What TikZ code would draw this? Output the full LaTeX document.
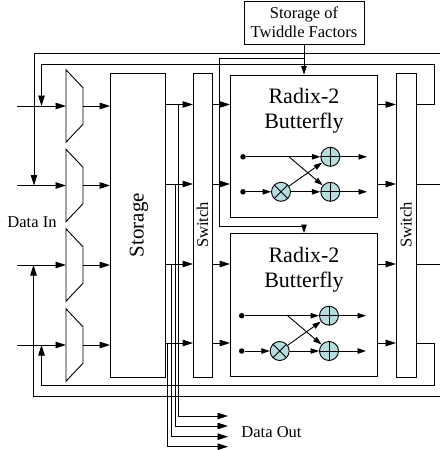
\documentclass[tikz,border=0pt]{standalone}
\usepackage{fontspec}
\setmainfont{Liberation Serif}
\usetikzlibrary{arrows.meta}
\definecolor{optint}{HTML}{B5DDE0}
\tikzset{
  x=1pt,y=-1pt,
  box/.style={draw,line width=.9pt,inner sep=0pt,align=center},
  line/.style={line width=.9pt},
  arr/.style={line width=.9pt,-{Triangle[length=10.5pt,width=6.5pt]}},
  sarr/.style={line width=.9pt,-{Triangle[length=8.5pt,width=5.5pt]}},
  dotnode/.style={circle,fill=black,inner sep=0pt,minimum size=5.5pt},
  op/.style={circle,draw,fill=optint,line width=.9pt,minimum size=19pt,inner sep=0pt},
  mulop/.style={op,path picture={\draw[line width=.8pt]
    (path picture bounding box.north west)--(path picture bounding box.south east)
    (path picture bounding box.south west)--(path picture bounding box.north east);}},
  addop/.style={op,path picture={\draw[line width=.8pt]
    (path picture bounding box.north)--(path picture bounding box.south)
    (path picture bounding box.west)--(path picture bounding box.east);}},
  small/.style={font=\fontsize{16.5}{19.5}\selectfont},
  big/.style={font=\fontsize{22}{24.5}\selectfont},
}
\begin{document}
\begin{tikzpicture}
\useasboundingbox (0,0) rectangle (440,450);
% main blocks
\node[box,small,minimum width=120pt,minimum height=43pt] (tw) at (304,22.5) {Storage of\\Twiddle Factors};
\node[box,minimum width=55pt,minimum height=304pt] (st) at (138,225.3) {};
\node[rotate=90,font=\fontsize{21}{24}\selectfont] (stl) at (139,225) {Storage};
\node[box,minimum width=19pt,minimum height=304pt] (swa) at (203,225.3) {};
\node[rotate=90,small] (swal) at (202.5,225) {Switch};
\node[box,minimum width=19.5pt,minimum height=304pt] (swb) at (406.2,225.3) {};
\node[rotate=90,small] (swbl) at (406,225) {Switch};
\node[box,minimum width=147pt,minimum height=142pt] (ba) at (304,146) {};
\node[box,minimum width=147pt,minimum height=142.5pt] (bb) at (304,304.7) {};
\node[big,align=center] (bal) at (304,110.5) {Radix-2\\Butterfly};
\node[big,align=center] (bbl) at (304,269.5) {Radix-2\\Butterfly};
\node[small] (din) at (32,222) {Data In};
\node[small] (dout) at (271.5,432) {Data Out};
% multiplexers
\foreach \n/\c in {1/106,2/185.5,3/265,4/345}{
  \draw[line,line join=miter] (66,\c-36.2) -- (83,\c-18.2) -- (83,\c+18.2) -- (66,\c+36.2) -- cycle;
  \coordinate (in\n) at (17,\c);
  \coordinate (mi\n) at (66,\c);
  \coordinate (mo\n) at (83,\c);
  \draw[arr] (in\n) -- (mi\n);
  \draw[arr] (mo\n) -- (mo\n -| st.west);
}
% storage -> switch -> butterfly -> switch
\foreach \n/\c in {1/104.5,2/184,3/264,4/343}{
  \coordinate (so\n) at (st.east |- 0,\c);
  \draw[arr] (so\n) -- (so\n -| swa.west);
  \coordinate (sb\n) at (swa.east |- 0,\c);
}
\draw[arr] (sb1) -- (sb1 -| ba.west);
\draw[arr] (sb2) -- (sb2 -| ba.west);
\draw[arr] (sb3) -- (sb3 -| bb.west);
\draw[arr] (sb4) -- (sb4 -| bb.west);
\coordinate (bo1) at (ba.east |- 0,104.5);
\coordinate (bo2) at (ba.east |- 0,184);
\coordinate (bo3) at (bb.east |- 0,264);
\coordinate (bo4) at (bb.east |- 0,343);
\foreach \n in {1,2,3,4}{\draw[arr] (bo\n) -- (bo\n -| swb.west);}
% data out taps
\foreach \n/\tx/\ty in {1/178/416,2/175/426,3/171/436.7,4/167.5/446.7}{
  \coordinate (tapa\n) at (\tx,\ty);
  \draw[line] (so\n -| tapa\n) -- (tapa\n);
  \coordinate (tapb\n) at (228,\ty);
  \draw[arr] (tapa\n) -- (tapb\n);
}
% feedback
\draw[arr] (swb.east |- 0,104.5) -- (434.5,104.5) -- (434.5,64.5) -- (41.5,64.5) -- (41.5,106);
\draw[arr] (440,53) -- (34,53) -- (34,185.5);
\draw[line] (swb.east |- 0,184) -- (440,184);
\draw[line] (swb.east |- 0,264) -- (440,264);
\draw[arr] (440,396.5) -- (33.5,396.5) -- (33.5,265);
\draw[arr] (swb.east |- 0,343) -- (434.5,343) -- (434.5,385) -- (41.5,385) -- (41.5,345);
% twiddle
\draw[sarr] (tw.south) -- (ba.north);
\coordinate (twj) at (304,58);
\draw[sarr] (twj) -- (219,58) -- (219,226) -- (304,226) -- (bb.north);
% butterfly 1
\node[dotnode] (ad1) at (243,156.8) {};
\node[dotnode] (ad2) at (243,191.8) {};
\node[mulop] (am) at (281,191.8) {};
\node[addop] (ap1) at (330.3,156.8) {};
\node[addop] (ap2) at (330.3,191.8) {};
\coordinate (ae1) at (367,156.8);
\coordinate (ae2) at (367,191.8);
\coordinate (ac) at (289,156.8);
\draw[sarr] (ad1) -- (ap1);
\draw[sarr] (ad2) -- (am);
\draw[sarr] (am) -- (ap1);
\draw[sarr] (am) -- (ap2);
\draw[sarr] (ac) -- (ap2);
\draw[sarr] (ap1) -- (ae1);
\draw[sarr] (ap2) -- (ae2);
% butterfly 2
\node[dotnode] (bd1) at (241.7,315.7) {};
\node[dotnode] (bd2) at (241.7,351) {};
\node[mulop] (bm) at (279.7,351) {};
\node[addop] (bp1) at (329,315.7) {};
\node[addop] (bp2) at (329,351) {};
\coordinate (be1) at (366,315.7);
\coordinate (be2) at (366,351);
\coordinate (bc) at (287.7,315.7);
\draw[sarr] (bd1) -- (bp1);
\draw[sarr] (bd2) -- (bm);
\draw[sarr] (bm) -- (bp1);
\draw[sarr] (bm) -- (bp2);
\draw[sarr] (bc) -- (bp2);
\draw[sarr] (bp1) -- (be1);
\draw[sarr] (bp2) -- (be2);
\end{tikzpicture}
\end{document}
